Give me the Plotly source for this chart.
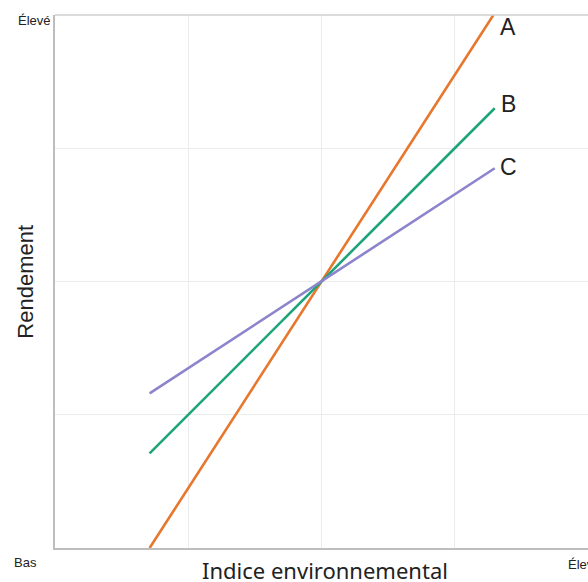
import plotly.graph_objects as go

# Data (axis units: 0 = Bas, 4 = Élevé)
env_index = [0.71, 2.0, 3.30]
env_index_A = [0.71, 2.0, 3.29]
series = {
    "A": [0.0, 2.0, 4.0],
    "B": [0.71, 2.0, 3.30],
    "C": [1.16, 2.0, 2.85],
}
colors = {"A": "#E8772E", "B": "#1FA37A", "C": "#8C84CC"}
label_y = {"A": 3.91, "B": 3.33, "C": 2.86}
label_x = 3.40
x_labels = ["Bas", "Élevé"]
y_labels = ["Bas", "Élevé"]

fig = go.Figure()
for name, vals in series.items():
    xs = env_index_A if name == "A" else env_index
    fig.add_trace(go.Scatter(x=xs, y=vals, mode="lines", name=name,
                             line=dict(color=colors[name], width=2.6),
                             showlegend=False, cliponaxis=True))
    fig.add_annotation(x=label_x, y=label_y[name], text=name, showarrow=False,
                       xref="x", yref="y", xanchor="center", yanchor="middle",
                       font=dict(family="Liberation Sans, Arial", size=23, color="#222222"))

fig.update_layout(
    width=588, height=582,
    margin=dict(l=55, r=0, t=15, b=34),
    paper_bgcolor="white", plot_bgcolor="white",
    font=dict(family="Liberation Sans, Arial", color="#222222"),
    xaxis=dict(range=[0, 4], dtick=1, showticklabels=False, showgrid=True,
               gridcolor="#ececec", gridwidth=1, zeroline=False,
               showline=True, linecolor="#bdbdbd", linewidth=2),
    yaxis=dict(range=[0, 4], dtick=1, showticklabels=False, showgrid=True,
               gridcolor="#ececec", gridwidth=1, zeroline=False,
               showline=True, linecolor="#bdbdbd", linewidth=2),
)
# top border
fig.add_shape(type="line", xref="paper", yref="paper", x0=0, x1=1, y0=1, y1=1,
              line=dict(color="#cfcfcf", width=1.5))

# axis titles
fig.add_annotation(xref="paper", yref="paper", x=0.506, y=0, text="Indice environnemental",
                   showarrow=False, xanchor="center", yanchor="middle", yshift=-22,
                   font=dict(family="Noto Sans", size=22, color="#222222"))
fig.add_annotation(xref="paper", yref="paper", x=-0.056, y=0.5, text="Rendement",
                   showarrow=False, xanchor="center", yanchor="middle", textangle=-90,
                   font=dict(family="Liberation Sans, Arial", size=22, color="#222222"))

# endpoint labels
fig.add_annotation(xref="paper", yref="paper", x=-0.004, y=1, text=y_labels[1],
                   showarrow=False, xanchor="right", yanchor="middle", yshift=-5,
                   font=dict(size=13))
fig.add_annotation(xref="paper", yref="paper", x=-0.056, y=0, text=x_labels[0],
                   showarrow=False, xanchor="center", yanchor="middle", yshift=-14,
                   font=dict(size=13))
fig.add_annotation(xref="paper", yref="paper", x=0.993, y=0, text=x_labels[1],
                   showarrow=False, xanchor="center", yanchor="middle", yshift=-16,
                   font=dict(size=13))

fig.write_html("out.html", config={"displayModeBar": False},
               post_script="document.body.style.margin='0';document.body.style.overflow='hidden';")
